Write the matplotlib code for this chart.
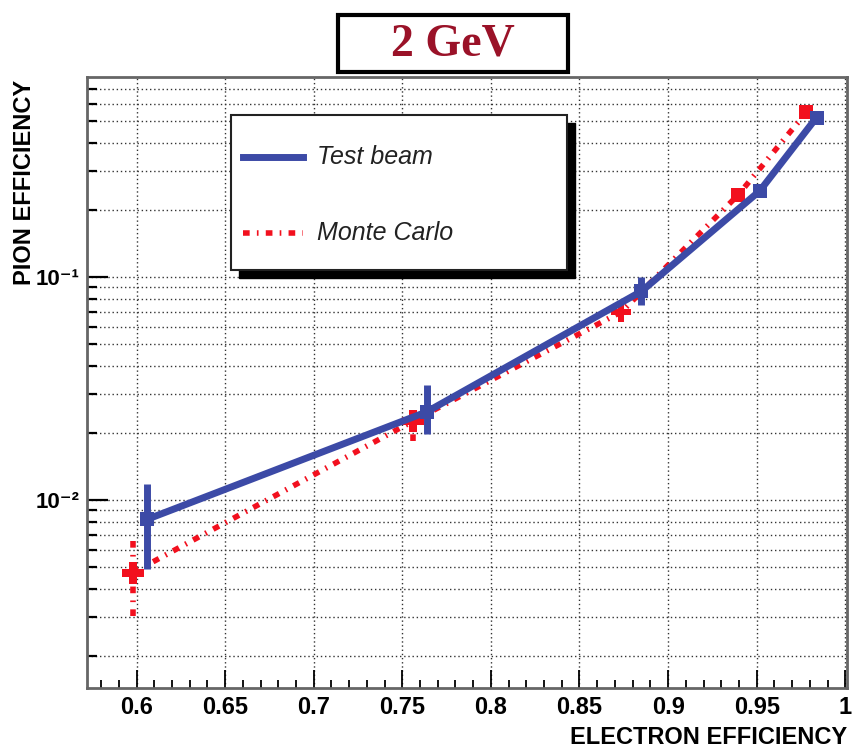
import matplotlib
matplotlib.use('Agg')
import matplotlib.pyplot as plt
from matplotlib.patches import Rectangle
from matplotlib.ticker import FixedLocator, MultipleLocator, NullFormatter

# Test beam (blue)
elec_tb = [0.6057, 0.7637, 0.885, 0.9518, 0.9838]
pion_tb = [0.0082, 0.0249, 0.0865, 0.244, 0.52]
tb_err_lo = [0.0033, 0.0051, 0.0115, 0.0, 0.0]
tb_err_hi = [0.0036, 0.0078, 0.0135, 0.0, 0.0]

# Monte Carlo (red)
elec_mc = [0.598, 0.7562, 0.8737, 0.9396, 0.978]
pion_mc = [0.00474, 0.0227, 0.070, 0.234, 0.548]
mc_err_lo = [0.0017, 0.0042, 0.007, 0.0, 0.0]
mc_err_hi = [0.0018, 0.0039, 0.008, 0.0, 0.0]

x_ticks = [0.6, 0.65, 0.7, 0.75, 0.8, 0.85, 0.9, 0.95, 1.0]
x_tick_labels = ['0.6', '0.65', '0.7', '0.75', '0.8', '0.85', '0.9', '0.95', '1']
y_ticks = [0.01, 0.1]
y_tick_labels = ['10\u207b\u00b2', '10\u207b\u00b9']

blue = '#3c4aa6'
red = '#f2101e'
font = ['Liberation Sans', 'DejaVu Sans']
mc_dash = (0, (1.2, 1.3, 0.3, 1.3))

fig = plt.figure(figsize=(8.52, 7.52), dpi=100)
fig.patch.set_facecolor('white')
ax = fig.add_axes([87 / 852, 1 - 688 / 752, 760 / 852, 611 / 752])
ax.set_yscale('log')
ax.set_xlim(0.572, 1.001)
ax.set_ylim(0.00144, 0.79)

# grid: dotted, at major x ticks and every y tick
ax.set_axisbelow(True)
ax.xaxis.set_major_locator(FixedLocator(x_ticks))
ax.xaxis.set_minor_locator(MultipleLocator(0.01))
ax.set_xticklabels(x_tick_labels)
ax.yaxis.set_major_locator(FixedLocator(y_ticks))
ax.yaxis.set_minor_locator(FixedLocator([m * 10.0 ** e for e in (-3, -2, -1) for m in range(2, 10)]))
ax.set_yticklabels(y_tick_labels)
ax.yaxis.set_minor_formatter(NullFormatter())
grid_style = dict(color='#333333', linewidth=1.0, linestyle=(0, (1, 2.0)))
ax.grid(axis='x', which='major', **grid_style)
ax.grid(axis='y', which='both', **grid_style)

ax.tick_params(axis='x', which='major', direction='in', length=13, width=1.3, pad=6)
ax.tick_params(axis='x', which='minor', direction='in', length=6, width=1.3)
ax.tick_params(axis='y', which='major', direction='in', length=15, width=1.6, pad=5)
ax.tick_params(axis='y', which='minor', direction='in', length=7, width=1.6)
for lab in ax.get_xticklabels():
    lab.set_family(font)
    lab.set_fontweight('bold')
    lab.set_fontsize(17)
for lab in ax.get_yticklabels():
    lab.set_family(font)
    lab.set_fontweight('bold')
    lab.set_fontsize(16)

for s in ax.spines.values():
    s.set_color('#666666')
    s.set_linewidth(2)

# Monte Carlo first, test beam on top
ax.plot(elec_mc, pion_mc, color=red, linewidth=4, linestyle=mc_dash, zorder=3)
eb = ax.errorbar(elec_mc, pion_mc, yerr=[mc_err_lo, mc_err_hi], fmt='none', ecolor=red,
                 elinewidth=4, capsize=0, zorder=3)
eb[2][0].set_linestyle(mc_dash)
mc_markers = ['P', 'P', 'P', 's', 's']
mc_sizes = [16, 16, 14, 10, 10]
for x, y, m, s in zip(elec_mc, pion_mc, mc_markers, mc_sizes):
    ax.plot(x, y, marker=m, markersize=s, color=red, markeredgewidth=0, zorder=4)

ax.plot(elec_tb, pion_tb, color=blue, linewidth=5, solid_capstyle='butt', zorder=5)
ax.errorbar(elec_tb, pion_tb, yerr=[tb_err_lo, tb_err_hi], fmt='none', ecolor=blue,
            elinewidth=5, capsize=0, zorder=5)
ax.plot(elec_tb, pion_tb, linestyle='none', marker='s', markersize=10, color=blue,
        markeredgewidth=0, zorder=6)

# legend box with shadow
def ax_xy(px, py):
    return (px - 87) / 760, (688 - py) / 611

x0, y0 = ax_xy(231, 270)
x1, y1 = ax_xy(567, 115)
ax.add_patch(Rectangle((x0 + 8 / 760, y0 - 8 / 611), x1 - x0, y1 - y0, transform=ax.transAxes,
                       facecolor='black', edgecolor='black', zorder=7))
ax.add_patch(Rectangle((x0, y0), x1 - x0, y1 - y0, transform=ax.transAxes,
                       facecolor='white', edgecolor='#222222', linewidth=1.5, zorder=8))
lx0, ly = ax_xy(243, 157)
lx1, _ = ax_xy(303, 157)
ax.plot([lx0, lx1], [ly, ly], transform=ax.transAxes, color=blue, linewidth=5, zorder=9)
tx, _ = ax_xy(317, 157)
ax.text(tx, ly, 'Test beam', transform=ax.transAxes, family=font, style='italic',
        fontsize=18, va='center', ha='left', color='#222222', zorder=9)
_, ly2 = ax_xy(243, 233)
ax.plot([lx0, lx1], [ly2, ly2], transform=ax.transAxes, color=red, linewidth=4,
        linestyle=mc_dash, zorder=9)
ax.text(tx, ly2, 'Monte Carlo', transform=ax.transAxes, family=font, style='italic',
        fontsize=18, va='center', ha='left', color='#222222', zorder=9)

# title box
fig.patches.append(Rectangle((338 / 852, 1 - 72 / 752), 230 / 852, 57 / 752,
                             transform=fig.transFigure, facecolor='white',
                             edgecolor='black', linewidth=3))
fig.text(453 / 852, 1 - 44 / 752, '2 GeV', family=['Liberation Serif', 'DejaVu Serif'],
         fontweight='bold', fontsize=33, color='#9a1228', ha='center', va='center')

# axis titles
fig.text(25 / 852, 1 - 80 / 752, 'PION EFFICIENCY', rotation=90, family=font,
         fontweight='bold', fontsize=17, ha='center', va='top')
fig.text(847 / 852, 1 - 738 / 752, 'ELECTRON EFFICIENCY', family=font,
         fontweight='bold', fontsize=17, ha='right', va='center')

plt.savefig('out.png', dpi=100, facecolor='white')
